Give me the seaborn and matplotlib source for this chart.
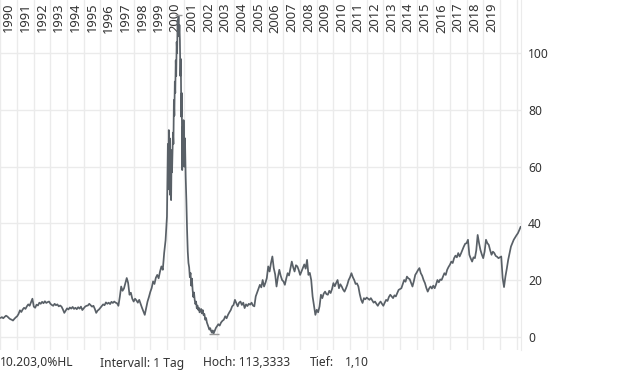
import matplotlib
matplotlib.use("Agg")
import matplotlib.pyplot as plt
import seaborn as sns
import pandas as pd

# prices, spread evenly over each calendar year
p1990 = [6.6, 6.9, 6.5, 7.0, 7.4, 7.1, 6.6, 6.2, 6.0, 5.7, 6.3, 6.8]
p1991 = [7.2, 8.0, 9.3, 8.7, 9.6, 10.2, 9.8, 10.7, 11.4, 10.9, 12.2, 13.4]
p1992 = [10.6, 10.2, 11.3, 11.0, 12.0, 11.6, 12.3, 11.8, 12.5, 11.9, 12.2, 12.4]
p1993 = [11.6, 11.2, 10.9, 11.6, 11.1, 11.4, 10.7, 11.0, 10.6, 9.6, 8.4, 9.2]
p1994 = [10.0, 9.6, 10.3, 9.9, 10.5, 9.8, 10.2, 9.7, 10.4, 9.9, 10.6, 9.4]
p1995 = [10.0, 10.6, 10.9, 11.0, 11.6, 11.1, 10.6, 10.9, 9.8, 8.4, 9.2, 9.6]
p1996 = [10.2, 10.8, 11.4, 11.1, 12.1, 11.6, 12.0, 11.5, 12.3, 11.9, 12.4, 12.0]
p1997 = [11.8, 10.9, 14.0, 17.7, 16.2, 17.0, 18.8, 20.7, 19.0, 14.8, 15.5, 13.4]
p1998 = [12.4, 13.4, 12.8, 12.0, 13.0, 11.6, 10.2, 9.0, 7.7, 10.0, 12.4, 14.0]
p1999 = [15.8, 17.2, 19.5, 18.6, 20.8, 21.8, 20.6, 23.0, 24.8, 23.6, 29.6, 34.0]
p2000 = [42.4, 55.0, 68.0, 52.0, 72.9, 60.0, 70.0, 50.0, 66.0, 48.2, 64.0, 58.0,
         65.8, 72.0, 68.0, 83.5, 78.0, 90.0, 86.0, 97.5, 92.0, 104.0, 100.0, 111.6,
         108.0, 113.3333, 106.0, 110.0, 104.6, 92.0, 98.0, 77.6, 86.0, 58.8, 74.0, 62.0]
p2001 = [76.4, 60.0, 70.0, 56.4, 48.0, 37.7, 30.0, 26.0, 24.5, 21.0, 22.5, 18.0,
         20.5, 16.5, 14.0, 15.6, 13.0, 11.5, 12.4, 10.0, 11.0, 9.5, 10.2, 8.6]
p2002 = [8.9, 9.8, 8.2, 9.4, 7.6, 8.0, 6.0, 6.6, 5.0, 4.2,
         3.4, 2.5, 3.0, 2.0, 1.4, 2.2, 1.10, 1.8, 2.6, 3.2]
p2003 = [3.6, 4.4, 3.9, 5.0, 5.6, 6.0, 7.2, 6.5, 7.7, 8.6, 9.4, 10.7]
p2004 = [11.2, 13.0, 11.8, 10.7, 12.0, 12.4, 11.2, 12.0, 10.1, 11.4, 10.8, 11.6]
p2005 = [11.3, 12.0, 11.0, 10.7, 14.2, 15.6, 17.0, 18.3, 17.4, 20.0, 17.7, 19.0]
p2006 = [20.7, 24.8, 23.0, 26.0, 28.3, 24.2, 22.0, 17.7, 21.0, 23.6, 21.5, 20.0]
p2007 = [19.5, 18.3, 20.5, 22.4, 21.6, 24.0, 26.5, 24.5, 23.0, 25.2, 24.8, 23.5]
p2008 = [21.8, 23.0, 24.2, 25.5, 24.0, 27.1, 21.8, 22.5, 20.0, 14.2, 11.0, 7.7]
p2009 = [9.5, 8.6, 10.7, 14.8, 13.6, 15.2, 15.9, 15.0, 14.8, 16.2, 15.4, 16.8]
p2010 = [18.9, 17.8, 19.0, 20.0, 17.1, 18.5, 17.7, 16.6, 15.9, 17.0, 18.3, 20.0]
p2011 = [21.0, 22.4, 21.0, 20.0, 18.6, 18.8, 17.7, 15.0, 13.0, 11.9, 13.6, 13.2]
p2012 = [13.8, 13.4, 13.0, 13.6, 12.8, 12.0, 12.4, 11.6, 10.9, 11.8, 12.4, 11.6]
p2013 = [10.9, 12.0, 13.0, 12.6, 14.0, 14.8, 14.2, 13.6, 14.6, 14.2, 15.4, 16.5]
p2014 = [16.8, 17.1, 18.6, 20.0, 19.4, 21.2, 20.6, 20.3, 19.0, 17.7, 19.6, 21.8]
p2015 = [22.6, 23.5, 24.2, 22.4, 21.5, 20.0, 18.9, 17.2, 15.9, 17.0, 17.7, 17.0]
p2016 = [18.0, 17.1, 18.4, 20.0, 19.2, 20.2, 20.0, 21.2, 22.4, 21.8, 23.6, 24.6]
p2017 = [25.4, 26.5, 26.0, 27.7, 28.6, 28.0, 29.5, 28.3, 29.4, 30.6, 31.8, 32.8]
p2018 = [33.0, 34.2, 28.9, 27.6, 26.5, 28.0, 27.7, 30.5, 35.9, 33.0, 30.6, 29.0]
p2019 = [27.7, 30.0, 34.2, 33.0, 32.4, 30.5, 28.9, 30.0, 29.5, 28.5, 28.2, 27.7]
p2020 = [28.0, 28.3, 20.7, 17.5, 21.2, 24.0, 27.1, 29.5, 31.8, 33.0, 34.2, 35.0]
p2021 = [35.8, 36.5, 37.6, 38.8]  # Jan..Apr, monthly

yearly = [p1990, p1991, p1992, p1993, p1994, p1995, p1996, p1997, p1998, p1999,
          p2000, p2001, p2002, p2003, p2004, p2005, p2006, p2007, p2008, p2009,
          p2010, p2011, p2012, p2013, p2014, p2015, p2016, p2017, p2018, p2019,
          p2020, p2021]
first_year = 1990
label_years = list(range(1990, 2020))
y_ticks = [0, 20, 40, 60, 80, 100]
footer = ["10.203,0%HL", "Intervall: 1 Tag", "Hoch: 113,3333", "Tief:", "1,10"]

rows = []
for i, vals in enumerate(yearly):
    n = 12 if vals is p2021 else len(vals)
    for k, v in enumerate(vals):
        rows.append((first_year + i + k / n, v))
df = pd.DataFrame(rows, columns=["year", "price"])

sns.set_style("white")
plt.rcParams["font.family"] = ["Noto Sans", "DejaVu Sans"]

line_col = "#596067"
grid_col = "#ebebeb"
text_col = "#333333"
fs = 8.7

fig = plt.figure(figsize=(6.2, 3.72), dpi=100)
ax = fig.add_axes([0, 22 / 372, 521 / 620, 350 / 372])

sns.lineplot(data=df, x="year", y="price", ax=ax, color=line_col, linewidth=1.25,
             estimator=None, sort=False, zorder=3)

# high / low markers
i_hi = df["price"].idxmax()
i_lo = df["price"].idxmin()
ax.hlines(df["price"][i_hi], df["year"][i_hi] - 0.2, df["year"][i_hi] + 0.2,
          color="#9a9a9a", lw=1, zorder=4)
ax.hlines(df["price"][i_lo], df["year"][i_lo] - 0.3, df["year"][i_lo] + 0.3,
          color="#9a9a9a", lw=1, zorder=4)

ax.set_xlim(1989.97, 2021.27)
ax.set_ylim(-4.7, 118.8)
ax.set_xticks(range(1990, 2022))
ax.set_xticklabels([])
ax.set_yticks(y_ticks)
ax.yaxis.tick_right()
ax.tick_params(axis="both", length=0)
ax.tick_params(axis="y", pad=5, labelsize=fs, labelcolor=text_col)
ax.grid(True, color=grid_col, linewidth=1)
ax.set_axisbelow(True)
ax.set_xlabel("")
ax.set_ylabel("")
for side in ["top", "left", "bottom"]:
    ax.spines[side].set_visible(False)
ax.spines["right"].set_color(grid_col)

for y in label_years:
    ax.text(y + 0.5, 1 - 3 / 350, str(y), transform=ax.get_xaxis_transform(),
            rotation=90, ha="center", va="top", fontsize=9.3, color=text_col, zorder=2)

xs = [0, 100, 203, 310, 345]
for x, s in zip(xs, footer):
    fig.text(x / 620, 1 - 363 / 372, s, ha="left", va="center", fontsize=fs, color=text_col)

fig.savefig("out.png", dpi=100)
